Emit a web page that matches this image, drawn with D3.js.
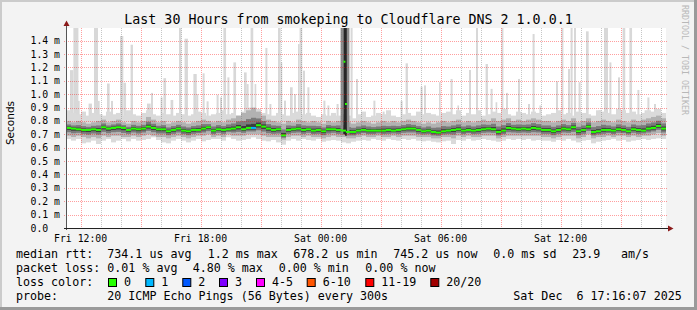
<!DOCTYPE html>
<html>
<head>
<meta charset="utf-8">
<script src="https://cdn.jsdelivr.net/npm/d3@7"></script>
<style>
body { margin: 0; background: #fff; }
svg text { font-family: "DejaVu Sans Mono", monospace; white-space: pre; }
</style>
</head>
<body>
<div id="chart"></div>
<script>
// median rtt per 15 minute step, ms
var median = [
  0.748, 0.743, 0.738, 0.733, 0.733, 0.738, 0.733, 0.753, 0.743, 0.748, 0.753, 0.748, 0.733, 0.743, 0.738, 0.743, 0.758, 0.748, 0.738, 0.738, 0.723, 0.733, 0.743, 0.728, 0.723,
  0.733, 0.733, 0.743, 0.753, 0.728, 0.738, 0.733, 0.738, 0.743, 0.753, 0.738, 0.748, 0.748, 0.768, 0.758, 0.743, 0.733, 0.738, 0.693, 0.733, 0.738, 0.743, 0.733,
  0.738, 0.728, 0.733, 0.723, 0.738, 0.738, 0.733, 0.728, 0.718, 0.718, 0.728, 0.733, 0.728, 0.728, 0.728, 0.728, 0.733, 0.728, 0.733, 0.738, 0.743, 0.743, 0.733, 0.723,
  0.728, 0.718, 0.713, 0.723, 0.728, 0.733, 0.738, 0.728, 0.733, 0.728, 0.733, 0.738, 0.743, 0.738, 0.718, 0.728, 0.748, 0.743, 0.738, 0.743, 0.738, 0.748, 0.743, 0.733,
  0.733, 0.723, 0.733, 0.743, 0.738, 0.753, 0.723, 0.733, 0.758, 0.718, 0.723, 0.733, 0.733, 0.728, 0.738, 0.733, 0.723, 0.738, 0.733, 0.728, 0.743, 0.748, 0.763, 0.743
];
// smoke extents per step
var smokeLo = [
  0.665, 0.653, 0.665, 0.633, 0.640, 0.653, 0.628, 0.653, 0.665, 0.640, 0.653, 0.665, 0.648, 0.665, 0.653, 0.658, 0.665, 0.678, 0.658, 0.640, 0.633, 0.653, 0.665, 0.653, 0.640,
  0.653, 0.665, 0.648, 0.658, 0.665, 0.665, 0.653, 0.678, 0.665, 0.653, 0.658, 0.665, 0.678, 0.665, 0.653, 0.648, 0.658, 0.640, 0.623, 0.653, 0.665, 0.653, 0.665,
  0.658, 0.653, 0.665, 0.645, 0.653, 0.658, 0.653, 0.640, 0.633, 0.645, 0.653, 0.658, 0.653, 0.665, 0.658, 0.653, 0.665, 0.658, 0.653, 0.665, 0.658, 0.665, 0.653, 0.648,
  0.653, 0.645, 0.640, 0.648, 0.653, 0.628, 0.658, 0.653, 0.665, 0.653, 0.658, 0.665, 0.658, 0.653, 0.645, 0.653, 0.665, 0.658, 0.665, 0.658, 0.665, 0.653, 0.658, 0.653,
  0.653, 0.645, 0.658, 0.653, 0.665, 0.653, 0.640, 0.653, 0.658, 0.633, 0.645, 0.653, 0.658, 0.665, 0.653, 0.658, 0.645, 0.653, 0.658, 0.665, 0.658, 0.665, 0.670, 0.665
];
var smokeHi = [
  0.88, 0.86, 0.85, 0.87, 0.84, 0.86, 0.85, 0.84, 0.87, 0.85, 0.86, 0.84, 0.88, 0.85, 0.84, 0.86, 0.88, 0.85, 0.84, 0.86, 0.85, 0.84, 0.86, 0.85, 0.84,
  0.85, 0.87, 0.86, 0.84, 0.85, 0.86, 0.88, 0.85, 0.86, 0.84, 0.87, 0.90, 0.88, 0.89, 0.86, 0.85, 0.84, 0.86, 0.85, 0.84, 0.86, 0.87, 0.85,
  0.86, 0.84, 0.83, 0.85, 0.84, 0.86, 0.84, 0.85, 0.84, 0.82, 0.85, 0.87, 0.83, 0.84, 0.86, 0.85, 0.88, 0.84, 0.83, 0.85, 0.86, 0.84, 0.87, 0.85,
  0.86, 0.85, 0.84, 0.86, 0.87, 0.85, 0.88, 0.84, 0.86, 0.85, 0.88, 0.84, 0.85, 0.87, 0.86, 0.89, 0.85, 0.84, 0.87, 0.86, 0.85, 0.87, 0.86, 0.84,
  0.85, 0.86, 0.88, 0.85, 0.86, 0.84, 0.87, 0.86, 0.85, 0.84, 0.88, 0.87, 0.86, 0.85, 0.89, 0.88, 0.86, 0.87, 0.85, 0.86, 0.88, 0.87, 0.89, 0.86
];
var coreHi = [
  0.80, 0.79, 0.80, 0.79, 0.78, 0.79, 0.80, 0.81, 0.79, 0.80, 0.81, 0.79, 0.78, 0.80, 0.79, 0.80, 0.83, 0.81, 0.79, 0.80, 0.78, 0.79, 0.80, 0.79, 0.78,
  0.79, 0.80, 0.81, 0.80, 0.79, 0.80, 0.79, 0.81, 0.82, 0.84, 0.86, 0.88, 0.90, 0.87, 0.84, 0.81, 0.80, 0.79, 0.78, 0.80, 0.79, 0.81, 0.80,
  0.79, 0.80, 0.79, 0.78, 0.80, 0.79, 0.80, 0.81, 0.79, 0.78, 0.79, 0.80, 0.79, 0.78, 0.79, 0.80, 0.79, 0.80, 0.79, 0.80, 0.81, 0.80, 0.79, 0.78,
  0.79, 0.78, 0.79, 0.80, 0.79, 0.80, 0.81, 0.79, 0.80, 0.79, 0.80, 0.81, 0.80, 0.82, 0.80, 0.81, 0.82, 0.80, 0.81, 0.80, 0.81, 0.82, 0.81, 0.80,
  0.80, 0.79, 0.80, 0.81, 0.80, 0.82, 0.79, 0.80, 0.82, 0.79, 0.80, 0.81, 0.80, 0.79, 0.81, 0.80, 0.79, 0.81, 0.80, 0.81, 0.82, 0.83, 0.84, 0.82
];
var coreLo = [
  0.69, 0.68, 0.69, 0.68, 0.67, 0.68, 0.67, 0.69, 0.68, 0.69, 0.69, 0.68, 0.68, 0.69, 0.68, 0.69, 0.70, 0.69, 0.68, 0.68, 0.67, 0.68, 0.69, 0.68, 0.67,
  0.68, 0.69, 0.69, 0.70, 0.68, 0.69, 0.68, 0.70, 0.69, 0.69, 0.69, 0.70, 0.70, 0.70, 0.69, 0.68, 0.68, 0.68, 0.66, 0.68, 0.69, 0.69, 0.68,
  0.69, 0.68, 0.68, 0.67, 0.68, 0.69, 0.68, 0.68, 0.67, 0.67, 0.68, 0.69, 0.68, 0.68, 0.69, 0.68, 0.68, 0.69, 0.68, 0.69, 0.69, 0.69, 0.68, 0.68,
  0.68, 0.67, 0.67, 0.68, 0.68, 0.67, 0.69, 0.68, 0.69, 0.68, 0.68, 0.69, 0.69, 0.69, 0.67, 0.68, 0.69, 0.69, 0.69, 0.69, 0.69, 0.69, 0.69, 0.68,
  0.68, 0.67, 0.68, 0.69, 0.69, 0.69, 0.67, 0.68, 0.70, 0.67, 0.68, 0.68, 0.69, 0.68, 0.69, 0.69, 0.68, 0.69, 0.68, 0.69, 0.69, 0.70, 0.71, 0.69
];
// steps with packet loss (index, lost pings)
var lossStep = [37];
var lossCount = [1];

// single high pings (hours after start, top in ms, width in minutes)
var spikeHr = [0.20, 0.37, 0.60, 1.13, 1.40, 1.60, 1.73, 2.05, 2.25, 2.70, 2.87, 3.23, 4.05, 4.25, 4.73, 4.87, 5.23, 5.65, 5.93,
  6.37, 6.53, 6.83, 7.03, 7.53, 7.70, 7.87, 8.07, 8.37, 8.90, 9.03, 9.23, 9.43, 9.97, 10.17, 10.60, 10.73, 10.90, 11.20, 11.40, 11.60, 11.68, 11.85,
  12.07, 12.87, 13.07, 13.53, 14.23, 14.50, 15.37, 15.83, 16.73, 16.98, 17.73,
  17.90, 18.65, 19.23, 19.57, 20.15, 20.50, 20.98, 21.23, 21.48, 21.77, 22.00, 22.60, 23.10, 23.33, 23.67,
  24.50, 24.77, 25.10, 25.23, 25.40, 25.63, 26.00, 26.63, 26.90, 27.17, 27.60, 27.83, 28.17, 28.57, 28.93, 29.07, 29.40, 29.60];
var spikeTop = [1.18, 1.6, 0.95, 0.93, 1.6, 0.95, 0.85, 1.08, 0.95, 1.435, 1.086, 1.37, 0.93, 1.01, 0.976, 1.12, 0.957, 1.6, 1.415,
  1.151, 1.0, 1.156, 0.947, 0.996, 0.976, 1.6, 1.126, 1.238, 1.163, 1.076, 1.6, 1.076, 1.346, 0.927, 1.6, 1.238, 0.952, 1.052, 1.0, 1.375, 1.6, 1.176,
  1.052, 0.952, 0.916, 0.927, 1.6, 1.114, 0.952, 0.87, 0.95, 1.231, 1.056,
  1.066, 1.09, 1.114, 0.916, 1.181, 1.6, 1.226, 1.04, 0.94, 1.6, 1.01, 1.114, 0.927, 1.45, 0.916,
  1.096, 1.6, 1.188, 1.6, 1.6, 1.09, 1.47, 0.88, 1.6, 1.238, 1.126, 1.6, 1.6, 1.032, 0.88, 0.976, 0.927, 0.89];
var spikeMin = [10, 15, 5, 10, 12, 5, 6, 8, 6, 10, 8, 7, 11, 6, 6, 8, 8, 7, 10,
  10, 5, 6, 6, 6, 6, 8, 6, 8, 8, 6, 8, 5, 6, 6, 8, 5, 6, 8, 6, 5, 8, 6,
  6, 6, 6, 6, 6, 6, 6, 6, 6, 7, 6,
  6, 5, 6, 5, 6, 6, 7, 6, 5, 6, 6, 6, 6, 6, 6,
  6, 6, 6, 6, 6, 6, 8, 8, 12, 6, 6, 8, 8, 6, 5, 6, 6, 6];

// the burst just before Sat 01:00
var burstHr = [13.87, 13.95];
var burstMed = [1.243, 0.927];
var burstLo = [0.70, 0.69];
var burstSideHr = [13.73, 14.03];

var yTicks = [0.1, 0.2, 0.3, 0.4, 0.5, 0.6, 0.7, 0.8, 0.9, 1.0, 1.1, 1.2, 1.3, 1.4];
var yTickLabels = ["0.0", "0.1 m", "0.2 m", "0.3 m", "0.4 m", "0.5 m", "0.6 m", "0.7 m", "0.8 m", "0.9 m", "1.0 m", "1.1 m", "1.2 m", "1.3 m", "1.4 m"];
var xLabels = ["Fri 12:00", "Fri 18:00", "Sat 00:00", "Sat 06:00", "Sat 12:00"];

var rttStats = ["734.1 us avg", "1.2 ms max", "678.2 us min", "745.2 us now", "0.0 ms sd", "23.9", "am/s"];
var lossStats = ["0.01 % avg", "4.80 % max", "0.00 % min", "0.00 % now"];
var lossNames = ["0", "1", "2", "3", "4-5", "6-10", "11-19", "20/20"];
var lossColors = ["#26ff00", "#00b8ff", "#0059ff", "#7e00ff", "#ff00ff", "#ff5500", "#ff0000", "#a10000"];
var probeText = "20 ICMP Echo Pings (56 Bytes) every 300s";
var stampText = "Sat Dec  6 17:16:07 2025";

// layout
var W = 697, H = 310;
var X0 = 66, X1 = 666, YT = 28, YB = 228;
var rttX = [107.3, 207.7, 293.3, 393.3, 493.3, 572.3, 621];
var lossX = [107.3, 192.7, 278.7, 365.3];
var boxX = [108.5, 145.8, 182.8, 219.5, 256.5, 307.2, 365.8, 430.8];

var start = new Date(2025, 11, 5, 11, 16, 7);
var end = new Date(2025, 11, 6, 17, 16, 7);
var hr = function(h) { return new Date(+start + h * 3600e3); };

var svg = d3.select("#chart").append("svg")
    .attr("width", W).attr("height", H)
    .style("display", "block");

// frame
svg.append("rect").attr("width", W).attr("height", H).attr("fill", "#f3f3f3");
svg.append("path").attr("d", "M0,0H" + W + "V2H2V" + H + "H0Z").attr("fill", "#cbcbcb");
svg.append("path").attr("d", "M" + W + ",0V" + H + "H0V" + (H - 3) + "H" + (W - 3) + "V0Z").attr("fill", "#9a9a9a");

svg.append("rect").attr("x", X0).attr("y", YT).attr("width", X1 - X0).attr("height", YB - YT).attr("fill", "#fff");

var x = d3.scaleTime().domain([start, end]).range([X0, X1]);
var y = d3.scaleLinear().domain([0, 1.495]).range([YB, YT]);

svg.append("clipPath").attr("id", "plot")
  .append("rect").attr("x", X0).attr("y", YT).attr("width", X1 - X0).attr("height", YB - YT);
var plot = svg.append("g").attr("clip-path", "url(#plot)");

var stepT = function(i) { return d3.timeMinute.offset(start, 15 * i); };

// smoke
var layers = [
  { c: "#dadada", lo: function(i) { return smokeLo[i]; }, hi: function(i) { return smokeHi[i]; } },
  { c: "#b2b2b2", lo: function(i) { return coreLo[i]; }, hi: function(i) { return coreHi[i]; } },
  { c: "#7a7a7a", lo: function(i) { return median[i] - (median[i] - coreLo[i]) * 0.55; }, hi: function(i) { return median[i] + (coreHi[i] - median[i]) * 0.5; } },
  { c: "#3c3c3c", lo: function(i) { return median[i] - (median[i] - coreLo[i]) * 0.25; }, hi: function(i) { return median[i] + (coreHi[i] - median[i]) * 0.2; } }
];

// spikes first so the band sits over their foot
plot.selectAll(".spike").data(spikeHr).enter().append("rect")
    .attr("x", function(d) { return x(hr(d)); })
    .attr("width", function(d, i) { return x(hr(d + spikeMin[i] / 60)) - x(hr(d)); })
    .attr("y", function(d, i) { return y(spikeTop[i]); })
    .attr("height", function(d, i) { return y(0.78) - y(spikeTop[i]); })
    .attr("fill", "#d8d8d8");

layers.forEach(function(L) {
  plot.append("g").selectAll("rect").data(median).enter().append("rect")
      .attr("x", function(d, i) { return x(stepT(i)); })
      .attr("width", function(d, i) { return x(stepT(i + 1)) - x(stepT(i)); })
      .attr("y", function(d, i) { return y(L.hi(i)); })
      .attr("height", function(d, i) { return y(L.lo(i)) - y(L.hi(i)); })
      .attr("fill", L.c);
});

// burst
plot.selectAll(".side").data(burstSideHr).enter().append("rect")
    .attr("x", function(d) { return x(hr(d)); })
    .attr("width", x(hr(0.14)) - x(hr(0)))
    .attr("y", YT).attr("height", y(0.70) - YT)
    .attr("fill", "#8c8c8c");
plot.selectAll(".burst").data(burstHr).enter().append("rect")
    .attr("x", function(d) { return x(hr(d)); })
    .attr("width", x(hr(5 / 60)) - x(hr(0)) + 0.2)
    .attr("y", YT)
    .attr("height", function(d, i) { return y(burstLo[i]) - YT; })
    .attr("fill", "#262626");

// grid on top of the smoke
var grid = svg.append("g");
var hours = d3.timeHour.range(start, end);
hours.forEach(function(t) {
  var major = t.getHours() % 3 === 0;
  var xx = Math.round(x(t)) + 0.5;
  grid.append("line").attr("x1", xx).attr("x2", xx).attr("y1", YT).attr("y2", YB + 2)
      .attr("stroke", major ? "rgba(255,0,0,0.38)" : "rgba(120,120,120,0.42)")
      .attr("stroke-dasharray", "1,1");
});
yTicks.forEach(function(v) {
  var yy = Math.round(y(v)) + 0.5;
  grid.append("line").attr("x1", X0 - 2).attr("x2", X1 + 2).attr("y1", yy).attr("y2", yy)
      .attr("stroke", "rgba(255,0,0,0.38)").attr("stroke-dasharray", "1,1");
});

// median line coloured by loss
var lossOf = function(i) { var k = lossStep.indexOf(i); return k < 0 ? 0 : lossCount[k]; };
plot.append("g").selectAll("line").data(median).enter().append("line")
    .attr("x1", function(d, i) { return x(stepT(i)); })
    .attr("x2", function(d, i) { return x(stepT(i + 1)); })
    .attr("y1", function(d) { return y(d); })
    .attr("y2", function(d) { return y(d); })
    .attr("stroke", function(d, i) { return lossColors[lossOf(i)]; })
    .attr("stroke-width", 2);
plot.append("g").selectAll("rect").data(burstMed).enter().append("rect")
    .attr("x", function(d, i) { return x(hr(burstHr[i])); })
    .attr("width", 2)
    .attr("y", function(d) { return y(d) - 1; })
    .attr("height", 2)
    .attr("fill", lossColors[0]);

// axes
svg.append("line").attr("x1", X0 + 0.5).attr("x2", X0 + 0.5).attr("y1", YB + 2).attr("y2", 24)
    .attr("stroke", "#555");
svg.append("line").attr("x1", X0 - 2).attr("x2", X1 + 3).attr("y1", YB + 0.5).attr("y2", YB + 0.5)
    .attr("stroke", "#222");
svg.append("path").attr("d", "M" + (X0 - 2.5) + ",26L" + (X0 + 0.5) + ",20.5L" + (X0 + 3.5) + ",26Z").attr("fill", "#8b1a1a");
svg.append("path").attr("d", "M" + (X1 + 2) + "," + (YB - 2.5) + "L" + (X1 + 7.5) + "," + (YB + 0.5) + "L" + (X1 + 2) + "," + (YB + 3.5) + "Z").attr("fill", "#8b1a1a");

var labels = svg.append("g").style("font-size", "9.8px").attr("fill", "#000");
[0].concat(yTicks).forEach(function(v, i) {
  labels.append("text").attr("x", 30.5).attr("y", y(v) + 3.5).text(yTickLabels[i]);
});
xLabels.forEach(function(s, i) {
  labels.append("text").attr("x", x(hr(0.7317 + 6 * i))).attr("y", 241.5)
      .attr("text-anchor", "middle").text(s);
});

svg.append("text").attr("transform", "translate(14,123) rotate(-90)")
    .attr("text-anchor", "middle").style("font-family", "'DejaVu Sans', sans-serif")
    .style("font-size", "10.5px").text("Seconds");

svg.append("text").attr("x", 348.5).attr("y", 23.5).attr("text-anchor", "middle")
    .style("font-size", "13.3px").text("Last 30 Hours from smokeping to Cloudflare DNS 2 1.0.0.1");

svg.append("text").attr("transform", "translate(682,5) rotate(90)")
    .style("font-size", "8.3px").attr("fill", "#b8b8b8").text("RRDTOOL / TOBI OETIKER");

// legend
var leg = svg.append("g").style("font-size", "11.66px").attr("fill", "#000");
leg.append("text").attr("x", 16).attr("y", 258).text("median rtt:");
rttStats.forEach(function(s, i) { leg.append("text").attr("x", rttX[i]).attr("y", 258).text(s); });
leg.append("text").attr("x", 16).attr("y", 272).text("packet loss:");
lossStats.forEach(function(s, i) { leg.append("text").attr("x", lossX[i]).attr("y", 272).text(s); });
leg.append("text").attr("x", 16).attr("y", 286).text("loss color:");
lossNames.forEach(function(s, i) {
  leg.append("rect").attr("x", boxX[i]).attr("y", 278.5).attr("width", 8).attr("height", 8)
      .attr("fill", lossColors[i]).attr("stroke", "#000");
  leg.append("text").attr("x", boxX[i] + 15.5).attr("y", 286).text(s);
});
leg.append("text").attr("x", 16).attr("y", 300).text("probe:");
leg.append("text").attr("x", 107.3).attr("y", 300).text(probeText);
leg.append("text").attr("x", 513.3).attr("y", 300).text(stampText);
</script>
</body>
</html>
